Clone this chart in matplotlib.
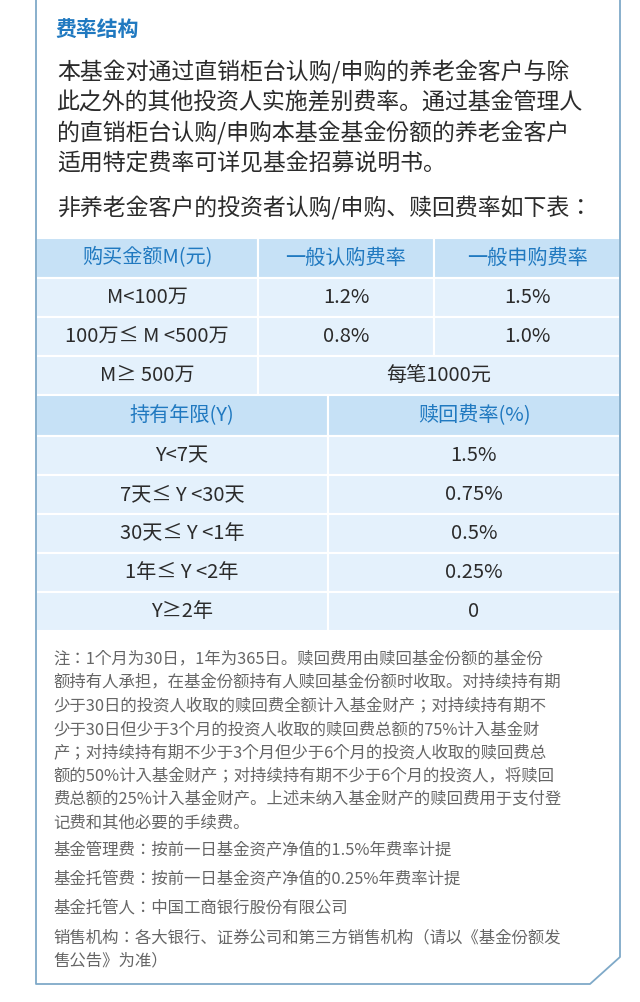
import matplotlib
matplotlib.use("Agg")
import matplotlib.pyplot as plt
from matplotlib import font_manager as fm
from matplotlib.patches import Rectangle

cands = [f for f in fm.findSystemFonts() if "NotoSansCJK" in f.replace(" ", "") or "NotoSansSC" in f]
reg = [f for f in cands if "Regular" in f] or cands
bold = [f for f in cands if "Bold" in f] or reg
for f in set(reg + bold):
    try:
        fm.fontManager.addfont(f)
    except Exception:
        pass
plt.rcParams["font.family"] = ["Noto Sans CJK SC", "Noto Sans CJK JP", "Noto Sans CJK TC", "DejaVu Sans"]
FP = fm.FontProperties(fname=reg[0]) if reg else fm.FontProperties(family="Noto Sans CJK SC")
FPB = fm.FontProperties(fname=bold[0]) if bold else FP

title = "费率结构"
intro_lines = ["本基金对通过直销柜台认购/申购的养老金客户与除",
               "此之外的其他投资人实施差别费率。通过基金管理人",
               "的直销柜台认购/申购本基金基金份额的养老金客户",
               "适用特定费率可详见基金招募说明书。"]
table_intro = "非养老金客户的投资者认购/申购、赎回费率如下表："

buy_header = ["购买金额M(元)", "一般认购费率", "一般申购费率"]
buy_amounts = ["M<100万", "100万≤ M <500万", "M≥ 500万"]
subscribe_rates = ["1.2%", "0.8%", None]
purchase_rates = ["1.5%", "1.0%", None]
large_fee = "每笔1000元"

redeem_header = ["持有年限(Y)", "赎回费率(%)"]
hold_periods = ["Y<7天", "7天≤ Y <30天", "30天≤ Y <1年", "1年≤ Y <2年", "Y≥2年"]
redeem_rates = ["1.5%", "0.75%", "0.5%", "0.25%", "0"]

notes = ["注：1个月为30日，1年为365日。赎回费用由赎回基金份额的基金份",
         "额持有人承担，在基金份额持有人赎回基金份额时收取。对持续持有期",
         "少于30日的投资人收取的赎回费全额计入基金财产；对持续持有期不",
         "少于30日但少于3个月的投资人收取的赎回费总额的75%计入基金财",
         "产；对持续持有期不少于3个月但少于6个月的投资人收取的赎回费总",
         "额的50%计入基金财产；对持续持有期不少于6个月的投资人，将赎回",
         "费总额的25%计入基金财产。上述未纳入基金财产的赎回费用于支付登",
         "记费和其他必要的手续费。",
         "基金管理费：按前一日基金资产净值的1.5%年费率计提",
         "基金托管费：按前一日基金资产净值的0.25%年费率计提",
         "基金托管人：中国工商银行股份有限公司",
         "销售机构：各大银行、证券公司和第三方销售机构（请以《基金份额发",
         "售公告》为准）"]

W, H = 640, 1002
fig = plt.figure(figsize=(6.4, 10.02), dpi=100)
ax = fig.add_axes([0, 0, 1, 1])
ax.set_xlim(0, W)
ax.set_ylim(H, 0)
ax.axis("off")

BLUE = "#2079c0"
HDR_BG = "#c6e1f6"
CELL_BG = "#e4f1fc"
TXT = "#2b2b2b"
GRAY = "#666666"
BORDER = "#7fa9c8"

L, R = 36, 620
ax.plot([L, L, 590, R, R], [0, 984, 984, 957, 0], color=BORDER, lw=1.3)

ax.text(55, 29, title, fontsize=15, color=BLUE, va="center", fontproperties=FPB)
for i, s in enumerate(intro_lines):
    ax.text(57, 72 + i * 30.5, s, fontsize=16.5, color=TXT, va="center", fontproperties=FP)
ax.text(57, 208, table_intro, fontsize=16.5, color=TXT, va="center", fontproperties=FP)

def cell(x0, x1, y0, y1, bg, text, color=TXT, size=14.5):
    ax.add_patch(Rectangle((x0, y0), x1 - x0, y1 - y0, facecolor=bg,
                           edgecolor="white", lw=1.5))
    if text is not None:
        ax.text((x0 + x1) / 2, (y0 + y1) / 2, text, ha="center", va="center",
                fontsize=size, color=color, fontproperties=FP)

cols1 = [L, 258, 434, R]
cols2 = [L, 328, R]
rh = 39
y = 238
for j, h in enumerate(buy_header):
    cell(cols1[j], cols1[j + 1], y, y + 40, HDR_BG, h, color=BLUE)
y += 40
for i, amt in enumerate(buy_amounts):
    cell(cols1[0], cols1[1], y, y + rh, CELL_BG, amt)
    if subscribe_rates[i] is None:
        cell(cols1[1], cols1[3], y, y + rh, CELL_BG, large_fee)
    else:
        cell(cols1[1], cols1[2], y, y + rh, CELL_BG, subscribe_rates[i])
        cell(cols1[2], cols1[3], y, y + rh, CELL_BG, purchase_rates[i])
    y += rh
for j, h in enumerate(redeem_header):
    cell(cols2[j], cols2[j + 1], y, y + 41, HDR_BG, h, color=BLUE)
y += 41
for p, r in zip(hold_periods, redeem_rates):
    cell(cols2[0], cols2[1], y, y + rh, CELL_BG, p)
    cell(cols2[1], cols2[2], y, y + rh, CELL_BG, r)
    y += rh

ys = [659, 682, 706, 730, 753, 776, 799, 823, 851, 880, 908, 938, 961]
for s, yy in zip(notes, ys):
    ax.text(53, yy, s, fontsize=11.8, color=GRAY, va="center", fontproperties=FP)

fig.savefig("out.png", dpi=100, facecolor="white")
